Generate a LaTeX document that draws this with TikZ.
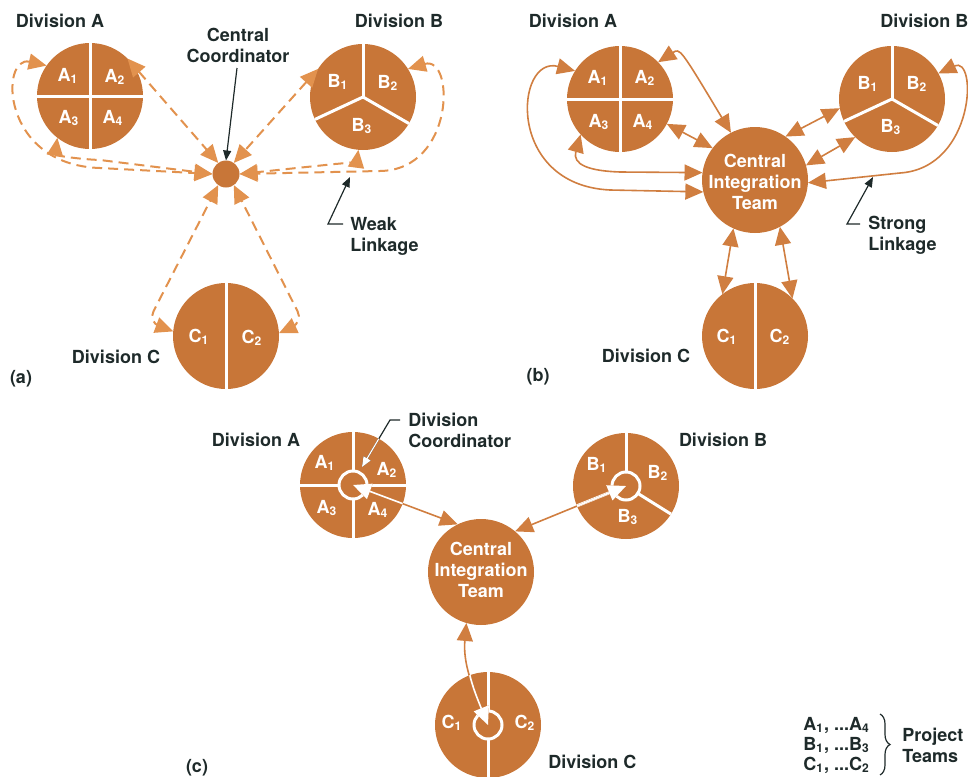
\documentclass[tikz,border=0pt]{standalone}
\usepackage{fontspec}
\setmainfont{TeX Gyre Heros}
\usetikzlibrary{arrows.meta,decorations.pathreplacing}
\definecolor{rust}{RGB}{200,118,56}
\definecolor{dashrust}{RGB}{226,146,78}
\definecolor{linkrust}{RGB}{208,126,64}
\definecolor{ink}{RGB}{30,42,42}
\newcommand{\tm}[2]{#1\textsubscript{#2}}

\tikzset{
  Head/.tip={Triangle[length=9pt,width=8pt]},
  division/.style={circle,fill=rust,minimum size=53pt,inner sep=0pt,outer sep=0pt},
  split/.style={white,line width=1.5pt},
  team/.style={text=white,font=\fontsize{9}{10.5}\selectfont\bfseries,inner sep=0pt},
  lbl/.style={text=ink,font=\fontsize{9}{10.5}\selectfont\bfseries,inner sep=0pt},
  weak/.style={dashrust,line width=1pt,dash pattern=on 5pt off 3pt,Head-Head},
  strong/.style={linkrust,line width=0.8pt,Head-Head},
  pointer/.style={ink,line width=0.6pt,-{Triangle[length=5pt,width=4pt]}},
  hub/.style={fill=rust,draw=white,line width=1.5pt}
}

\begin{document}
\begin{tikzpicture}[x=0.5pt,y=0.5pt]
\useasboundingbox (0,0) rectangle (968,-776);

%%% (a) central coordinator, weak linkage
\node[division] (aA) at (90,-96) {};
\node[division] (aB) at (363,-97) {};
\node[division] (aC) at (226,-336) {};
\node[circle,fill=rust,minimum size=13.5pt,inner sep=0pt,outer sep=0pt] (aHub) at (226,-174) {};
\draw[split] (aA.north) -- (aA.south);
\draw[split] (aA.west) -- (aA.east);
\draw[split] (aB.center) -- (aB.90);
\draw[split] (aB.center) -- (aB.205);
\draw[split] (aB.center) -- (aB.330);
\draw[split] (aC.north) -- (aC.south);
\foreach \t/\s/\x/\y in {A/1/68/-76, A/2/115/-77, A/3/69/-118, A/4/113/-118,
  B/1/338/-82, B/2/388/-83, B/3/362/-126, C/1/199/-337, C/2/252/-338}
  \node[team] (a\t\s) at (\x,\y) {\tm{\t}{\s}};

\draw[weak] (aA.145) .. controls (0,-55) and (0,-165) .. (100,-168) -- (aHub.west);
\draw[weak] (aA.232) .. controls (55,-155) and (75,-159) .. (100,-160) -- (aHub.west);
\draw[weak] (aA.45) -- (aHub.125);
\draw[weak] (aB.148) -- (aHub.55);
\draw[weak] (aB.32) .. controls (455,-55) and (455,-170) .. (380,-171) -- (aHub.east);
\draw[weak] (aB.265) .. controls (357,-160) and (350,-163) .. (335,-164) -- (aHub.east);
\draw[weak,rounded corners=6pt] (aC.175) -- (148,-322) -- (aHub.235);
\draw[weak,rounded corners=6pt] (aC.3) -- (303,-322) -- (aHub.305);

\node[lbl] (aDivA) at (60,-21) {Division A};
\node[lbl] (aDivB) at (399,-21) {Division B};
\node[lbl] (aDivC) at (116,-357) {Division C};
\node[lbl,align=center] (aHubLbl) at (238,-45) {Central\\Coordinator};
\node[lbl,align=left,anchor=west] (aWeak) at (350,-236) {Weak\\Linkage};
\node[lbl] (aTag) at (21,-379) {(a)};
\draw[pointer] (237,-68) -- (aHub.north);
\draw[pointer] (343,-224) -- (328,-224) -- (350,-177);

%%% (b) central integration team, strong linkage
\node[division] (bA) at (620,-99) {};
\node[division] (bB) at (892,-99) {};
\node[division] (bC) at (755,-336) {};
\node[division] (bCIT) at (755,-180) {};
\draw[split] (bA.north) -- (bA.south);
\draw[split] (bA.west) -- (bA.east);
\draw[split] (bB.center) -- (bB.90);
\draw[split] (bB.center) -- (bB.205);
\draw[split] (bB.center) -- (bB.330);
\draw[split] (bC.north) -- (bC.south);
\foreach \t/\s/\x/\y in {A/1/598/-78, A/2/645/-78, A/3/599/-122, A/4/643/-122,
  B/1/868/-84, B/2/917/-84, B/3/891/-127, C/1/727/-337, C/2/780/-337}
  \node[team] (b\t\s) at (\x,\y) {\tm{\t}{\s}};
\node[team,align=center] (bCITLbl) at (755,-182) {Central\\Integration\\Team};

\draw[strong] (bA.148) .. controls (515,-55) and (505,-185) .. (610,-190) -- (bCIT.193);
\draw[strong] (bA.222) .. controls (572,-165) and (590,-171) .. (620,-172) -- (bCIT.172);
\draw[strong] (bA.44) .. controls (680,-48) .. (bCIT.117);
\draw[strong] (bA.332) -- (bCIT.143);
\draw[strong] (bB.190) -- (bCIT.55);
\draw[strong] (bB.226) -- (bCIT.16);
\draw[strong] (bB.29) .. controls (978,-55) and (975,-168) .. (900,-173) -- (bCIT.357);
\draw[strong] (bC.128) -- (bCIT.246);
\draw[strong] (bC.45) -- (bCIT.298);

\node[lbl] (bDivA) at (573,-21) {Division A};
\node[lbl,anchor=west] (bDivB) at (880,-21) {Division B};
\node[lbl] (bDivC) at (646,-356) {Division C};
\node[lbl,align=left,anchor=west] (bStrong) at (868,-235) {Strong\\Linkage};
\node[lbl] (bTag) at (538,-377) {(b)};
\draw[pointer] (860,-224) -- (847,-224) -- (873,-177);

%%% (c) division coordinators
\node[division] (cA) at (353,-485) {};
\node[division] (cB) at (626,-486) {};
\node[division] (cC) at (488,-725) {};
\node[division] (cCIT) at (481,-572) {};
\draw[split] (cA.north) -- (cA.south);
\draw[split] (cA.west) -- (cA.east);
\draw[split] (cB.center) -- (cB.90);
\draw[split] (cB.center) -- (cB.202);
\draw[split] (cB.center) -- (cB.328);
\draw[split] (cC.north) -- (cC.south);
\draw[hub] (cA.center) circle (7pt);
\draw[hub] (cB.center) circle (7pt);
\draw[hub] (cC.center) circle (7pt);
\foreach \t/\s/\x/\y in {A/1/325/-463, A/2/387/-470, A/3/327/-508, A/4/378/-510,
  B/1/597/-465, B/2/658/-473, B/3/628/-517, C/1/452/-723, C/2/525/-723}
  \node[team] (c\t\s) at (\x,\y) {\tm{\t}{\s}};
\node[team,align=center] (cCITLbl) at (481,-570) {Central\\Integration\\Team};

\draw[strong] (cA.center) -- (cCIT.116);
\draw[strong] (cB.center) -- (cCIT.50);
\draw[strong] (cC.center) to[out=112,in=-95] (cCIT.254);
\draw[pointer] (400,-420) -- (390,-420) -- (362,-467);
% white where the links run over the divisions
\begin{scope}
  \clip (cA.center) circle (26.5pt);
  \draw[strong,white,Head-] (cA.center) -- (cCIT.116);
  \draw[pointer,white] (400,-420) -- (390,-420) -- (362,-467);
\end{scope}
\begin{scope}
  \clip (cB.center) circle (26.5pt);
  \draw[strong,white,Head-] (cB.center) -- (cCIT.50);
\end{scope}
\begin{scope}
  \clip (cC.center) circle (26.5pt);
  \draw[strong,white,Head-] (cC.center) to[out=112,in=-95] (cCIT.254);
\end{scope}

\node[lbl] (cDivA) at (256,-440) {Division A};
\node[lbl] (cDivB) at (723,-440) {Division B};
\node[lbl,anchor=west] (cDivC) at (548,-762) {Division C};
\node[lbl,align=left,anchor=west] (cCoord) at (408,-430) {Division\\Coordinator};
\node[lbl] (cTag) at (197,-768) {(c)};

% legend
\node[lbl,align=left,anchor=west,font=\fontsize{9}{10}\selectfont\bfseries] (teamList) at (803,-745)
  {\tm{A}{1}, ...\tm{A}{4}\\\tm{B}{1}, ...\tm{B}{3}\\\tm{C}{1}, ...\tm{C}{2}};
\draw[ink,line width=0.6pt,decorate,decoration={brace,amplitude=5pt}] (880,-714) -- (880,-775);
\node[lbl,align=left,anchor=west] (teamWord) at (902,-745) {Project\\Teams};
\end{tikzpicture}
\end{document}
